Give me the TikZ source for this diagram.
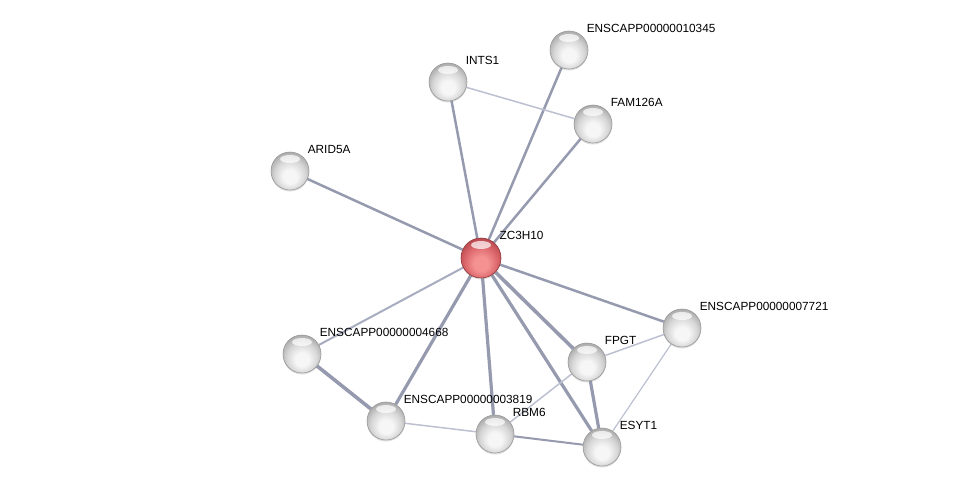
\documentclass[tikz,border=0pt]{standalone}
\usepackage{fontspec}
\setmainfont{Liberation Sans}
\usepackage{tikz}
\usetikzlibrary{shadows}
\usetikzlibrary{backgrounds}
\definecolor{linkgray}{RGB}{150,154,174}
\definecolor{linkmid}{RGB}{168,172,192}
\definecolor{linklight}{RGB}{188,192,208}
\definecolor{ballhigh}{RGB}{246,246,246}
\definecolor{ballmid}{RGB}{214,214,214}
\definecolor{balltop}{RGB}{160,160,160}
\definecolor{redhigh}{RGB}{244,146,146}
\definecolor{redmid}{RGB}{220,104,108}
\definecolor{redtop}{RGB}{178,66,72}
% shaded spheres, lit from below with a shine on top
\pgfdeclareradialshading{greyball}{\pgfpoint{0bp}{-9bp}}{color(0bp)=(ballhigh); color(9bp)=(ballhigh); color(20bp)=(ballmid); color(31bp)=(balltop); color(50bp)=(balltop)}
\pgfdeclareradialshading{redball}{\pgfpoint{0bp}{-9bp}}{color(0bp)=(redhigh); color(9bp)=(redhigh); color(20bp)=(redmid); color(31bp)=(redtop); color(50bp)=(redtop)}
\tikzset{x=1pt, y=-1pt,
protein/.style=
    { % Grey ball for every protein
        circle,
        minimum size=38pt,
        inner sep=0pt,
        shading=greyball,
        draw=gray!80, line width=0.6pt,
        drop shadow={shadow xshift=0pt, shadow yshift=-1.5pt, opacity=0.25},
        path picture={\fill[white, opacity=0.7] ([yshift=-7pt]path picture bounding box.north) ellipse (10pt and 4pt);},
        label distance=6.5pt
    },
    query/.style={protein, shading=redball, draw=redtop!80!black, minimum size=40pt}, % The query protein
    every label/.style={font=\fontsize{11.8}{14}\selectfont, inner sep=0pt, xshift=4pt, yshift=3.5pt},
    every edge/.style={ % Sets the properties for each link
        draw,
        linkgray,
        line width=2.5pt
    },
    weak/.style={linklight, line width=1.5pt},
    strong/.style={line width=3.2pt}
}

\begin{document}
\begin{tikzpicture}
    \useasboundingbox (0,0) rectangle (976,491);
    \node[query] (zc3h10) at (481,258) [label=45:ZC3H10] {};
    \node[protein] (p10345) at (569,50) [label=45:ENSCAPP00000010345] {};
    \node[protein] (ints1) at (448,82) [label=45:INTS1] {};
    \node[protein] (fam126a) at (593,124) [label=45:FAM126A] {};
    \node[protein] (arid5a) at (290,171) [label=45:ARID5A] {};
    \node[protein] (p7721) at (682,328) [label=45:ENSCAPP00000007721] {};
    \node[protein] (fpgt) at (587,362) [label=45:FPGT] {};
    \node[protein] (p4668) at (302,354) [label=45:ENSCAPP00000004668] {};
    \node[protein] (p3819) at (386,421) [label=45:ENSCAPP00000003819] {};
    \node[protein] (rbm6) at (495,434) [label=45:RBM6] {};
    \node[protein] (esyt1) at (602,447) [label=45:ESYT1] {};
    \begin{scope}[on background layer]
    \draw
    (zc3h10) edge (ints1)
    (zc3h10) edge (p10345)
    (zc3h10) edge (fam126a)
    (zc3h10) edge (arid5a)
    (zc3h10) edge (p7721)
    (zc3h10) edge[strong, line width=3.6pt] (fpgt)
    (zc3h10) edge[strong] (esyt1)
    (zc3h10) edge[strong] (rbm6)
    (zc3h10) edge[strong] (p3819)
    (zc3h10) edge[line width=2pt, linkmid] (p4668)
    (ints1) edge[weak] (fam126a)
    (p4668) edge[strong, line width=3.6pt] (p3819)
    (p3819) edge[weak] (rbm6)
    (rbm6) edge[line width=2pt] (esyt1)
    (rbm6) edge[weak] (fpgt)
    (fpgt) edge[strong] (esyt1)
    (fpgt) edge[weak] (p7721)
    (p7721) edge[weak, line width=1.2pt] (esyt1)
    ;
    \end{scope}
\end{tikzpicture}
\end{document}
